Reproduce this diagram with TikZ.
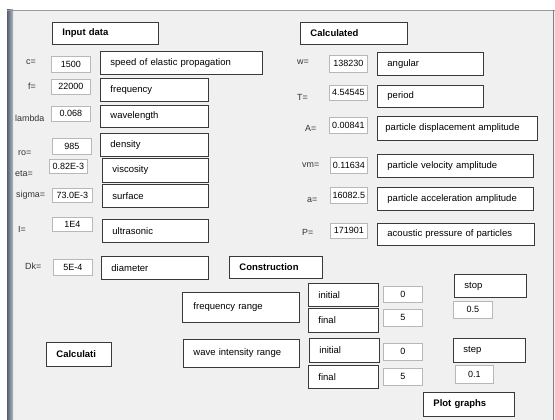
\documentclass[tikz,border=0pt]{standalone}
\usepackage{fontspec}
\setmainfont{Liberation Sans}
\definecolor{winbg}{HTML}{F0F0F0}
\definecolor{boxline}{HTML}{3A3A3A}
\definecolor{valline}{HTML}{B8B8B8}
\definecolor{barblue}{HTML}{7A889C}
\tikzset{
  field/.style={draw=boxline, line width=0.9pt, fill=white, anchor=north west,
    inner xsep=10pt, inner ysep=0pt, align=left, font=\fontsize{9.5}{11}\selectfont},
  button/.style={field, font=\fontsize{9.5}{11}\selectfont\bfseries},
  valbox/.style={draw=valline, line width=0.7pt, fill=white, anchor=north west,
    inner sep=0pt, font=\fontsize{9}{10}\selectfont},
  varname/.style={anchor=west, inner sep=0pt, text=black!80, font=\fontsize{8.9}{10}\selectfont}
}
\begin{document}
\begin{tikzpicture}[x=1pt,y=-1pt]
\useasboundingbox (0,0) rectangle (555,420);

% window
\fill[white] (0,0) rectangle (555,420);
\fill[winbg] (7,10) rectangle (555,420);
\shade[left color=barblue!70!black, right color=barblue!60!white] (7,10) rectangle (13,420);
\draw[black!40, line width=1.5pt] (7,10.7) -- (555,10.7);
\draw[black!50, line width=1pt] (553.5,10) -- (553.5,420);

% headers
\node[button, text width=86pt, minimum height=22pt] (input) at (52,22) {Input data};
\node[button, text width=87pt, minimum height=22pt] (calc) at (300,22) {Calculated};

% variable names
\foreach \t/\x/\y [count=\i] in {c=/26/62, f=/28/86, lambda/15/118, ro=/18/153,
  eta=/15/174, sigma=/16/195, I=/18/229, Dk=/25/266,
  w=/297/62, T=/297/97, A=/305/128, vm=/302/165, a=/307/200, P=/302/232}
  {\node[varname] (var\i) at (\x,\y) {\t};}

% value boxes
\foreach \v/\x/\y/\w/\h [count=\i] in {1500/51/56/39/16, 22000/51/79/39/15,
  0.068/51/106/39/15, 985/52/138/39/16, 0.82E-3/49/159/38/14, 73.0E-3/52/188/40/14,
  1E4/52/217/40/14, 5E-4/53/259/39/16,
  138230/329/55/38/17, 4.54545/329/85/38/15, 0.00841/329/117/38/16,
  0.11634/330/157/37/16, 16082.5/330/187/37/16, 171901/330/223/37/15,
  0/383/286/39/16, 5/383/309/39/17, 0.5/453/301/39/17,
  0/383/343/39/17, 5/383/368/39/17, 0.1/455/365/38/18}
  {\node[valbox, minimum width=\w pt, minimum height=\h pt] (val\i) at (\x,\y) {\v};}

% input descriptions
\node[field, text width=142pt, minimum height=23pt] (speed) at (100,51) {speed of elastic propagation};
\node[field, text width=88pt, minimum height=23pt] (freq) at (100,78) {frequency};
\node[field, text width=88pt, minimum height=22pt] (wave) at (100,105) {wavelength};
\node[field, text width=88pt, minimum height=23pt] (dens) at (100,133) {density};
\node[field, text width=86pt, minimum height=24pt] (visc) at (102,158) {viscosity};
\node[field, text width=86pt, minimum height=23pt] (surf) at (102,184) {surface};
\node[field, text width=86pt, minimum height=23pt] (ultra) at (102,219) {ultrasonic};
\node[field, text width=87pt, minimum height=23pt] (diam) at (101,256) {diameter};

% calculated descriptions
\node[field, text width=86pt, minimum height=23pt] (ang) at (377,52) {angular};
\node[field, text width=86pt, minimum height=22pt] (per) at (377,85) {period};
\node[field, inner xsep=8pt, text width=144pt, minimum height=24pt] (disp) at (377,116) {particle displacement amplitude};
\node[field, text width=136pt, minimum height=23pt] (velo) at (377,154) {particle velocity amplitude};
\node[field, text width=136pt, minimum height=23pt] (accel) at (377,187) {particle acceleration amplitude};
\node[field, text width=137pt, minimum height=22pt] (press) at (377,223) {acoustic pressure of particles};

% construction
\node[button, text width=73pt, minimum height=22pt] (constr) at (229,256) {Construction};
\node[field, inner xsep=11pt, text width=95pt, minimum height=30pt] (frange) at (182,292) {frequency range};
\node[field, text width=96pt, minimum height=28pt] (wrange) at (183,339) {wave intensity range};
\node[field, text width=50pt, minimum height=23pt] (init1) at (308,283) {initial};
\node[field, text width=50pt, minimum height=24pt] (fin1) at (308,308) {final};
\node[field, text width=50pt, minimum height=24pt] (init2) at (309,338) {initial};
\node[field, text width=50pt, minimum height=23pt] (fin2) at (308,365) {final};
\node[field, text width=52pt, minimum height=23pt] (stop) at (454,274) {stop};
\node[field, text width=52pt, minimum height=24pt] (stepbox) at (453,338) {step};

% buttons
\node[button, text width=45pt, minimum height=24pt] (calcbtn) at (46,342) {Calculati};
\node[button, text width=71pt, minimum height=24pt] (plot) at (423,392) {Plot graphs};

\end{tikzpicture}
\end{document}
